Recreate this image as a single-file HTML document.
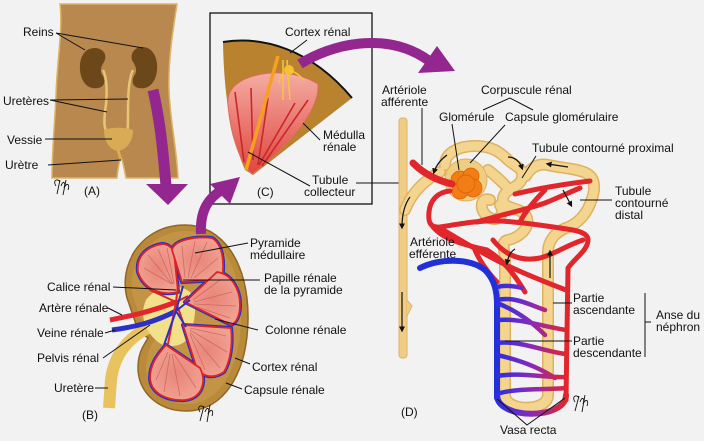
<!DOCTYPE html>
<html><head><meta charset="utf-8"><style>
html,body{margin:0;padding:0;background:#f2f2f2;}
svg{display:block;}
text{font-family:"Liberation Sans",Arial,sans-serif;font-size:12px;fill:#111;}
</style></head><body>
<svg width="704" height="441" viewBox="0 0 704 441" xmlns="http://www.w3.org/2000/svg">
<defs>
<marker id="ah" viewBox="0 0 10 10" refX="6" refY="5" markerWidth="5" markerHeight="5" orient="auto"><path d="M0,0 L10,5 L0,10 z" fill="#111"/></marker>
<linearGradient id="med" x1="0" y1="0" x2="0" y2="1"><stop offset="0" stop-color="#f4aca2"/><stop offset="1" stop-color="#e0453e"/></linearGradient>
<linearGradient id="gBR" gradientUnits="userSpaceOnUse" x1="497" y1="0" x2="566" y2="0"><stop offset="0" stop-color="#2a2ee0"/><stop offset="0.5" stop-color="#8a2ab8"/><stop offset="1" stop-color="#e2262c"/></linearGradient>
<radialGradient id="pyr" cx="0.5" cy="0.5" r="0.6"><stop offset="0" stop-color="#e98478"/><stop offset="1" stop-color="#f0a596"/></radialGradient>
</defs>
<rect width="704" height="441" fill="#f2f2f2"/>

<!-- ===== (A) body ===== -->
<path d="M60,4 L177,4 C173,30 168,60 169,90 C170,120 177,150 178,178 L126,178 C124,168 123,162 121,157 C119,162 118,168 117,178 L52,178 C52,150 55,120 56,95 C57,60 63,30 60,4 Z" fill="#b9884f" stroke="#dcb46a" stroke-width="1.5"/>
<path d="M95,48 C84,48 79,58 80,70 C81,82 88,90 98,88 C104,87 106,82 103,76 C100,72 100,68 104,62 C108,55 103,48 95,48 Z" fill="#6b4719"/>
<path d="M142,47 C153,47 158,58 157,70 C156,82 149,90 139,88 C133,87 131,82 134,76 C137,72 137,68 133,62 C129,55 134,47 142,47 Z" fill="#6b4719"/>
<path d="M103,70 C108,80 107,100 105,112 C104,122 104,128 107,132" fill="none" stroke="#e6c675" stroke-width="2.5"/>
<path d="M133,70 C128,80 128,100 128,115 C128,125 128,130 127,132" fill="none" stroke="#e6c675" stroke-width="2.5"/>
<path d="M104,130 C110,127 126,127 133,130 C133,142 126,150 118,151 C110,150 104,142 104,130 Z" fill="#d9ab55"/>
<path d="M118,150 L121,160" stroke="#d9ab55" stroke-width="3"/>
<g stroke="#111" stroke-width="1" fill="none">
<path d="M56,33 L85,50 M56,33 L143,48"/>
<path d="M50,100 L128,99 M50,100 L107,112"/>
<path d="M45,139 L112,139"/>
<path d="M48,165 L121,160"/>
</g>
<text x="23" y="36">Reins</text>
<text x="3" y="105">Uretères</text>
<text x="7" y="144">Vessie</text>
<text x="5" y="169">Urètre</text>
<text x="84" y="195">(A)</text>
<path d="M56,186 C52,180 58,178 60,182 M60,180 L57,194 M61,186 C63,180 66,182 64,188 C67,182 70,184 68,190 M66,180 L63,195" stroke="#111" stroke-width="0.9" fill="none"/>

<!-- purple arrow A->B -->
<path d="M153,90 C160,120 163,150 166,186" fill="none" stroke="#93278f" stroke-width="11"/>
<polygon points="146,184 188,184 168,205" fill="#93278f"/>

<!-- ===== (C) box ===== -->
<rect x="210" y="13" width="162" height="191" fill="none" stroke="#111" stroke-width="1.3"/>
<path d="M223,42 C262,36 310,48 352,98 L253,175 L245,170 C232,140 224,100 223,42 Z" fill="#b8822f"/>
<path d="M223,42 C262,36 310,48 352,98" fill="none" stroke="#111" stroke-width="2"/>
<path d="M228,105 C226,88 240,78 262,74 C285,70 305,76 318,84 C320,110 290,145 252,174 C238,160 230,130 228,105 Z" fill="url(#med)" stroke="#e06a5a" stroke-width="1"/>
<g stroke="#c8282a" stroke-width="1.6" fill="none">
<path d="M235,92 L244,162 M251,88 L253,160 M268,98 L258,165 M295,103 L259,165 M308,100 L262,166"/>
</g>
<path d="M278,56 L246,170" stroke="#f5a020" stroke-width="3.5"/>
<path d="M283,60 L283,100 M287,60 L290,100" stroke="#f5c542" stroke-width="1.5" fill="none"/>
<circle cx="289" cy="70" r="5" fill="#f5c030"/>
<path d="M289,70 C296,72 300,76 304,80 M284,72 C280,76 278,80 280,84" stroke="#f5c542" stroke-width="1.5" fill="none"/>
<g stroke="#111" stroke-width="1" fill="none">
<path d="M307,40 L290,53"/>
<path d="M320,140 L303,123"/>
<path d="M310,186 L248,152"/>
<path d="M356,183 L400,183"/>
</g>
<text x="285" y="36">Cortex rénal</text>
<text x="323" y="139">Médulla</text>
<text x="323" y="151">rénale</text>
<text x="312" y="184">Tubule</text>
<text x="304" y="196">collecteur</text>
<text x="257" y="196">(C)</text>

<!-- purple arrow C->D -->
<path d="M300,64 C330,45 385,30 428,60" fill="none" stroke="#93278f" stroke-width="10"/>
<polygon points="418,73 437,46 455,71" fill="#93278f"/>

<!-- ===== (B) kidney ===== -->
<path d="M185,225 C222,225 249,262 248,320 C247,372 225,411 186,411 C158,411 138,392 138,368 C138,352 144,345 148,338 L138,330 L127,298 C123,282 126,266 134,252 C146,234 164,225 185,225 Z" fill="#b98a3a" stroke="#8f6626" stroke-width="1.5"/>
<path d="M185,231 C218,231 242,265 241,319 C240,368 220,404 187,404 C164,404 146,390 146,368 C146,355 151,345 156,338 L144,328 L133,297 C130,283 132,270 138,258 C149,242 166,231 185,231 Z" fill="#c39445"/>
<path d="M148,328 C128,338 114,355 111,380 L109,408" fill="none" stroke="#e7c25e" stroke-width="12"/>
<path d="M146,300 C156,286 178,282 190,292 C198,302 196,322 188,338 C182,348 165,348 158,342 C148,334 138,318 146,300 Z" fill="#f2e08a"/>
<g fill="url(#pyr)" stroke="#2b30c8" stroke-width="4" stroke-linejoin="round">
<path d="M138,272 C136,258 145,247 162,244 C168,244 172,248 174,252 L178,292 C162,296 144,290 138,272 Z"/>
<path d="M172,250 C174,240 195,236 212,238 C222,244 225,260 222,280 L182,282 Z"/>
<path d="M185,302 L217,272 C232,274 240,290 240,305 C240,316 236,323 231,325 Z"/>
<path d="M183,325 L231,328 C233,345 230,362 224,372 C212,380 200,376 196,366 Z"/>
<path d="M166,345 L200,368 C207,382 202,398 185,400 C168,401 151,394 150,378 C150,365 157,355 166,345 Z"/>
</g>
<g fill="url(#pyr)" stroke="#dd2424" stroke-width="1.8" stroke-linejoin="round">
<path d="M138,272 C136,258 145,247 162,244 C168,244 172,248 174,252 L178,292 C162,296 144,290 138,272 Z"/>
<path d="M172,250 C174,240 195,236 212,238 C222,244 225,260 222,280 L182,282 Z"/>
<path d="M185,302 L217,272 C232,274 240,290 240,305 C240,316 236,323 231,325 Z"/>
<path d="M183,325 L231,328 C233,345 230,362 224,372 C212,380 200,376 196,366 Z"/>
<path d="M166,345 L200,368 C207,382 202,398 185,400 C168,401 151,394 150,378 C150,365 157,355 166,345 Z"/>
</g>
<g stroke="#c8605a" stroke-width="0.8" fill="none" opacity="0.8">
<path d="M172,284 L144,268 M172,284 L148,255 M173,284 L158,249 M174,284 L167,248"/>
<path d="M185,278 L182,246 M188,278 L195,241 M191,278 L207,242 M194,278 L218,258"/>
<path d="M193,300 L220,280 M194,302 L232,292 M194,304 L236,306 M194,306 L230,318"/>
<path d="M190,328 L226,336 M190,330 L227,352 M190,332 L220,368 M190,334 L205,370"/>
<path d="M168,352 L156,380 M170,354 L164,392 M172,354 L180,396 M174,354 L196,388"/>
</g>
<path d="M110,320 C130,316 150,312 176,302" fill="none" stroke="#e2262c" stroke-width="5"/>
<path d="M112,330 C135,327 155,322 176,311" fill="none" stroke="#2b30c8" stroke-width="5"/>
<g fill="none" stroke-width="2">
<path d="M176,302 L178,286 M176,302 L188,296 M176,302 L184,325 M176,302 L168,344 M176,302 L150,290" stroke="#dd2424"/>
<path d="M176,311 L183,286 M176,311 L190,300 M176,311 L186,327 M176,311 L164,345" stroke="#2b30c8"/>
</g>
<g stroke="#111" stroke-width="1" fill="none">
<path d="M248,243 L195,253"/>
<path d="M260,280 L183,280"/>
<path d="M113,287 L176,290"/>
<path d="M108,308 L122,315"/>
<path d="M105,333 L115,330"/>
<path d="M258,330 L215,319"/>
<path d="M103,358 L150,325"/>
<path d="M250,364 L235,358"/>
<path d="M95,388 L108,388"/>
<path d="M242,389 L226,383"/>
</g>
<text x="250" y="247">Pyramide</text>
<text x="250" y="259">médullaire</text>
<text x="264" y="282">Papille rénale</text>
<text x="264" y="294">de la pyramide</text>
<text x="47" y="291">Calice rénal</text>
<text x="39" y="312">Artère rénale</text>
<text x="37" y="337">Veine rénale</text>
<text x="37" y="362">Pelvis rénal</text>
<text x="54" y="392">Uretère</text>
<text x="82" y="419">(B)</text>
<text x="265" y="334">Colonne rénale</text>
<text x="252" y="371">Cortex rénal</text>
<text x="244" y="394">Capsule rénale</text>
<path d="M200,412 C196,406 202,404 204,408 M204,406 L200,421 M205,412 C207,406 210,408 208,414 C211,408 214,410 212,416 M210,405 L207,422" stroke="#111" stroke-width="0.9" fill="none"/>

<!-- purple arrow B->C -->
<path d="M201,234 C200,215 205,200 222,190" fill="none" stroke="#93278f" stroke-width="10"/>
<polygon points="210,184 240,177 230,204" fill="#93278f"/>

<!-- ===== (D) nephron ===== -->
<rect x="399" y="118" width="8" height="240" rx="3" fill="#efcd85" stroke="#dcb466" stroke-width="1"/>
<path d="M407,300 L412,306 L407,316" fill="#efcd85" stroke="#dcb466" stroke-width="1"/>
<g fill="none" stroke-linecap="round" stroke-linejoin="round">
<g stroke="#ddb262" stroke-width="12">
<path d="M405,210 C412,192 425,180 440,172"/>
<path d="M445,165 C445,152 460,146 475,146 C492,146 500,152 508,160 C516,167 524,168 522,178 C520,188 505,188 503,198 C501,210 520,206 526,216 C532,228 518,238 508,240 C500,242 505,250 505,258 L505,395 C505,412 548,412 548,395 L548,252 C548,240 556,232 566,228 C578,224 586,214 590,204 C596,190 596,178 586,173 C575,168 560,168 548,165 C538,163 530,168 526,176"/>
<path d="M490,200 C480,196 478,212 490,218 C498,222 506,214 500,205"/>
<path d="M488,170 C495,175 500,180 505,185"/>
</g>
<g stroke="#f3d590" stroke-width="9">
<path d="M405,210 C412,192 425,180 440,172"/>
<path d="M445,165 C445,152 460,146 475,146 C492,146 500,152 508,160 C516,167 524,168 522,178 C520,188 505,188 503,198 C501,210 520,206 526,216 C532,228 518,238 508,240 C500,242 505,250 505,258 L505,395 C505,412 548,412 548,395 L548,252 C548,240 556,232 566,228 C578,224 586,214 590,204 C596,190 596,178 586,173 C575,168 560,168 548,165 C538,163 530,168 526,176"/>
<path d="M490,200 C480,196 478,212 490,218 C498,222 506,214 500,205"/>
<path d="M488,170 C495,175 500,180 505,185"/>
</g>
</g>
<circle cx="466" cy="180" r="21" fill="#f0cd80" stroke="#dfb060" stroke-width="1"/>
<g fill="#f27c16" stroke="#d86000" stroke-width="0.7">
<circle cx="460" cy="180" r="9"/><circle cx="471" cy="176" r="8"/><circle cx="473" cy="188" r="9"/><circle cx="460" cy="191" r="8"/><circle cx="466" cy="184" r="9"/>
</g>
<g fill="none" stroke-linecap="round" stroke-linejoin="round">
<path d="M413,163 C422,172 435,180 452,184" stroke="#e1262c" stroke-width="7"/>
<g stroke="#e1262c" stroke-width="5">
<path d="M450,191 C438,192 430,200 429,212 C428,222 430,228 440,227 C460,224 480,220 500,221 C520,222 540,225 560,228 C575,230 588,232 588,240 C588,250 575,258 568,268 L566,400"/>
<path d="M440,228 C460,240 480,252 500,262 C520,272 545,282 566,290"/>
<path d="M477,222 C500,215 525,210 545,203 C560,197 570,192 580,188"/>
<path d="M515,194 C540,188 565,184 590,181"/>
<path d="M493,240 C505,255 520,262 540,258 C555,254 565,246 583,240"/>
<path d="M475,250 C480,262 490,275 497,282"/>
<path d="M520,222 C525,212 535,200 545,190"/>
<path d="M433,227 C440,235 450,242 487,250 C500,258 512,270 525,292"/>
</g>
<path d="M420,268 C440,258 470,258 485,270 C495,280 497,292 497,305 L497,398" stroke="#2230d8" stroke-width="6"/>
<path d="M497,395 C497,420 566,420 566,395" stroke="url(#gBR)" stroke-width="6"/>
<g stroke="url(#gBR)" stroke-width="4.5">
<path d="M497,287 C505,285 515,286 522,288"/>
<path d="M497,300 C515,296 530,305 545,310"/>
<path d="M497,320 C520,318 540,326 566,330"/>
<path d="M497,343 C520,340 545,352 566,354"/>
<path d="M497,376 C520,372 545,378 566,377"/>
<path d="M500,393 C520,388 545,390 566,388"/>
<path d="M497,303 C515,310 530,320 545,335"/>
<path d="M497,355 C520,360 540,368 555,378"/>
</g>
</g>
<g stroke="#111" stroke-width="1.2" fill="none" marker-end="url(#ah)">
<path d="M447,155 C440,160 436,166 434,172"/>
<path d="M508,157 C515,157 520,162 522,168"/>
<path d="M568,167 L548,164"/>
<path d="M563,190 L571,205"/>
<path d="M550,278 L550,252"/>
<path d="M515,249 C510,252 508,257 507,263"/>
<path d="M410,197 C404,205 402,215 402,227"/>
<path d="M402,292 L402,330"/>
</g>
<g stroke="#111" stroke-width="1" fill="none">
<path d="M422,108 L422,165"/>
<path d="M483,110 L510,98 L533,110"/>
<path d="M452,124 L459,170"/>
<path d="M505,125 L470,163"/>
<path d="M536,156 L522,178"/>
<path d="M612,200 L580,200"/>
<path d="M553,303 L572,303"/>
<path d="M505,341 L572,341"/>
<path d="M645,293 L645,357 M645,322 L651,322"/>
<path d="M497,399 L527,425 L565,398"/>
</g>
<text x="382" y="94">Artériole</text>
<text x="381" y="106">afférente</text>
<text x="481" y="94">Corpuscule rénal</text>
<text x="439" y="121">Glomérule</text>
<text x="505" y="121">Capsule glomérulaire</text>
<text x="532" y="152">Tubule contourné proximal</text>
<text x="615" y="195">Tubule</text>
<text x="615" y="207">contourné</text>
<text x="615" y="219">distal</text>
<text x="410" y="246">Artériole</text>
<text x="409" y="258">efférente</text>
<text x="573" y="302">Partie</text>
<text x="573" y="314">ascendante</text>
<text x="573" y="345">Partie</text>
<text x="573" y="357">descendante</text>
<text x="656" y="319">Anse du</text>
<text x="656" y="331">néphron</text>
<text x="401" y="416">(D)</text>
<text x="500" y="434">Vasa recta</text>
<path d="M575,402 C571,396 577,394 579,398 M579,396 L575,411 M580,402 C582,396 585,398 583,404 C586,398 589,400 587,406 M585,395 L582,412" stroke="#111" stroke-width="0.9" fill="none"/>
</svg>
</body></html>
